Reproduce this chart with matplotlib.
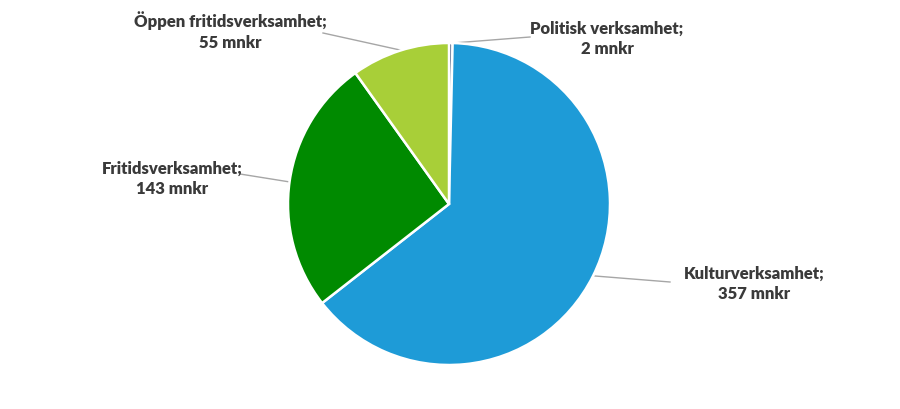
import matplotlib
matplotlib.use("Agg")
import matplotlib.pyplot as plt

categories = ["Politisk verksamhet", "Kulturverksamhet", "Fritidsverksamhet", "Öppen fritidsverksamhet"]
values = [2, 357, 143, 55]
unit = "mnkr"
colors = ["#1F3864", "#1E9BD7", "#008A00", "#A8CF38"]

W, H = 900, 409
fig = plt.figure(figsize=(W / 100, H / 100), dpi=100)
ax = fig.add_axes([0, 0, 1, 1])
ax.set_xlim(0, W)
ax.set_ylim(0, H)
ax.set_aspect("equal")
ax.axis("off")

cx, cy, r = 449, H - 204, 161
ax.pie(values, colors=colors, startangle=90, counterclock=False,
       center=(cx, cy), radius=r, frame=True,
       wedgeprops=dict(edgecolor="white", linewidth=1.8))
ax.set_xlim(0, W)
ax.set_ylim(0, H)
ax.axis("off")

# label positions (pixel coords, top-left origin) and leader lines
label_pos = {
    "Politisk verksamhet": (607, 39),
    "Kulturverksamhet": (754, 284),
    "Fritidsverksamhet": (172, 179),
    "Öppen fritidsverksamhet": (230, 31),
}
leaders = {
    "Politisk verksamhet": ((453, 43), (530, 37)),
    "Kulturverksamhet": ((595, 276), (670, 282)),
    "Fritidsverksamhet": ((290, 182), (240, 174)),
    "Öppen fritidsverksamhet": ((400, 50), (323, 33)),
}
for cat, val in zip(categories, values):
    x, y = label_pos[cat]
    ax.text(x, H - y, f"{cat};\n{val} {unit}", ha="center", va="center",
            fontsize=12, fontweight="heavy", family=["Lato", "DejaVu Sans"],
            color="#3A3A3A", linespacing=1.35)
    (x0, y0), (x1, y1) = leaders[cat]
    ax.plot([x0, x1], [H - y0, H - y1], color="#A6A6A6", linewidth=1, zorder=0)

fig.savefig("out.png", dpi=100)
